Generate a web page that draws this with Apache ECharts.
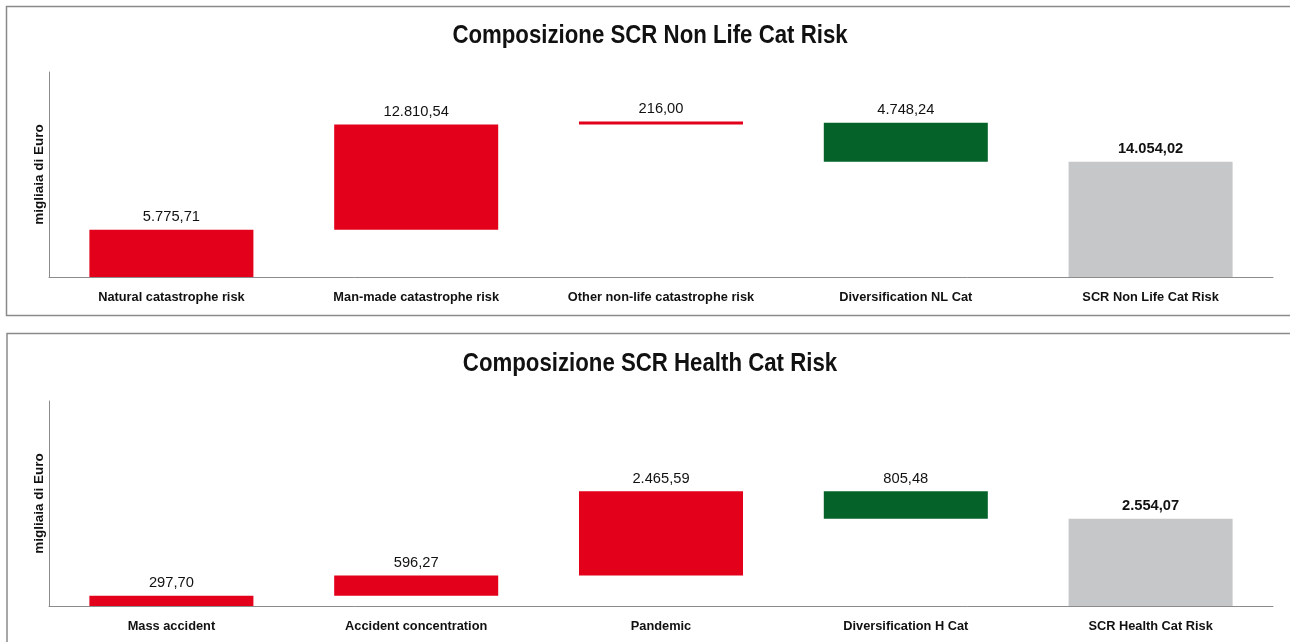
<!DOCTYPE html>
<html>
<head>
<meta charset="utf-8">
<script src="https://cdn.jsdelivr.net/npm/echarts@6/dist/echarts.min.js"></script>
<style>
html,body{margin:0;padding:0;background:#fff;}
#c{width:1290px;height:642px;}
</style>
</head>
<body>
<div id="c"></div>
<script>
// ---- data ----
const titleNL = 'Composizione SCR Non Life Cat Risk';
const titleH = 'Composizione SCR Health Cat Risk';
const yAxisName = 'migliaia di Euro';
const categoriesNL = ['Natural catastrophe risk', 'Man-made catastrophe risk', 'Other non-life catastrophe risk', 'Diversification NL Cat', 'SCR Non Life Cat Risk'];
const valuesNL = [5775.71, 12810.54, 216.00, -4748.24, 14054.02];
const categoriesH = ['Mass accident', 'Accident concentration', 'Pandemic', 'Diversification H Cat', 'SCR Health Cat Risk'];
const valuesH = [297.70, 596.27, 2465.59, -805.48, 2554.07];
const yMaxNL = 25000;
const yMaxH = 6000;

const RED = '#e2001a', GREEN = '#05632a', GREY = '#c6c7c9';
const FONT = '"Liberation Sans Narrow", "Arial Narrow", "Liberation Sans", Arial, sans-serif';

function fmt(v) {
  const a = Math.abs(v);
  const parts = a.toFixed(2).split('.');
  const intp = parts[0].replace(/\B(?=(\d{3})+(?!\d))/g, '.');
  return intp + ',' + parts[1];
}

// waterfall: invisible base + visible part
function waterfall(vals) {
  const base = [], vis = [];
  let cum = 0;
  vals.forEach((v, i) => {
    if (i === vals.length - 1) { base.push(0); vis.push({ v: v, kind: 'total' }); return; }
    if (v >= 0) { base.push(cum); vis.push({ v: v, kind: 'up' }); cum += v; }
    else { cum += v; base.push(cum); vis.push({ v: -v, kind: 'down' }); }
  });
  return { base, vis };
}

function makeSeries(vals, idx) {
  const w = waterfall(vals);
  return [
    {
      type: 'bar', xAxisIndex: idx, yAxisIndex: idx, stack: 's' + idx,
      data: w.base, itemStyle: { color: 'transparent' }, silent: true,
      barCategoryGap: '33%'
    },
    {
      type: 'bar', xAxisIndex: idx, yAxisIndex: idx, stack: 's' + idx,
      barCategoryGap: '33%', barMinHeight: 3,
      data: w.vis.map((d, i) => ({
        value: d.v,
        itemStyle: { color: d.kind === 'total' ? GREY : (d.kind === 'down' ? GREEN : RED) },
        label: { fontWeight: d.kind === 'total' ? 'bold' : 'normal' }
      })),
      label: {
        show: true, position: 'top', distance: 5,
        fontFamily: FONT, fontSize: 14.7, color: '#111',
        formatter: p => fmt(vals[p.dataIndex])
      }
    }
  ];
}

const chart = echarts.init(document.getElementById('c'), null, { renderer: 'canvas' });

function xAxisCfg(cats, idx) {
  return {
    type: 'category', gridIndex: idx, data: cats,
    axisLine: { lineStyle: { color: '#8c8c8c', width: 1 } },
    axisTick: { show: false },
    axisLabel: { fontFamily: FONT, fontWeight: 'bold', fontSize: 12.8, color: '#111', margin: 14, interval: 0 }
  };
}
function yAxisCfg(max, idx) {
  return {
    type: 'value', gridIndex: idx, min: 0, max: max, interval: max,
    name: yAxisName, nameLocation: 'middle', nameGap: 3, nameRotate: 90,
    nameTextStyle: { fontFamily: FONT, fontWeight: 'bold', fontSize: 13.5, color: '#111' },
    axisLine: { show: true, lineStyle: { color: '#8c8c8c', width: 1 } },
    axisTick: { show: false },
    axisLabel: { show: false },
    splitLine: { show: false }
  };
}

function titleText(text, y) {
  return {
    type: 'text', x: 650, y: y, scaleX: 0.855,
    style: { text: text, fontFamily: FONT, fontWeight: 'bold', fontSize: 26, fill: '#111', align: 'center', verticalAlign: 'middle' }
  };
}

chart.setOption({
  backgroundColor: '#fff',
  animation: false,
  graphic: [
    { type: 'rect', shape: { x: 6.5, y: 6.5, width: 1300, height: 309 }, style: { fill: 'none', stroke: '#8a8a8a', lineWidth: 1.5 }, z: -1 },
    { type: 'rect', shape: { x: 7, y: 333.5, width: 1300, height: 400 }, style: { fill: 'none', stroke: '#8a8a8a', lineWidth: 1.5 }, z: -1 },
    titleText(titleNL, 35.5),
    titleText(titleH, 363.5)
  ],
  grid: [
    { left: 49, width: 1224, top: 72, height: 205 },
    { left: 49, width: 1224, top: 401, height: 205 }
  ],
  xAxis: [xAxisCfg(categoriesNL, 0), xAxisCfg(categoriesH, 1)],
  yAxis: [yAxisCfg(yMaxNL, 0), yAxisCfg(yMaxH, 1)],
  series: [...makeSeries(valuesNL, 0), ...makeSeries(valuesH, 1)]
});
</script>
</body>
</html>
